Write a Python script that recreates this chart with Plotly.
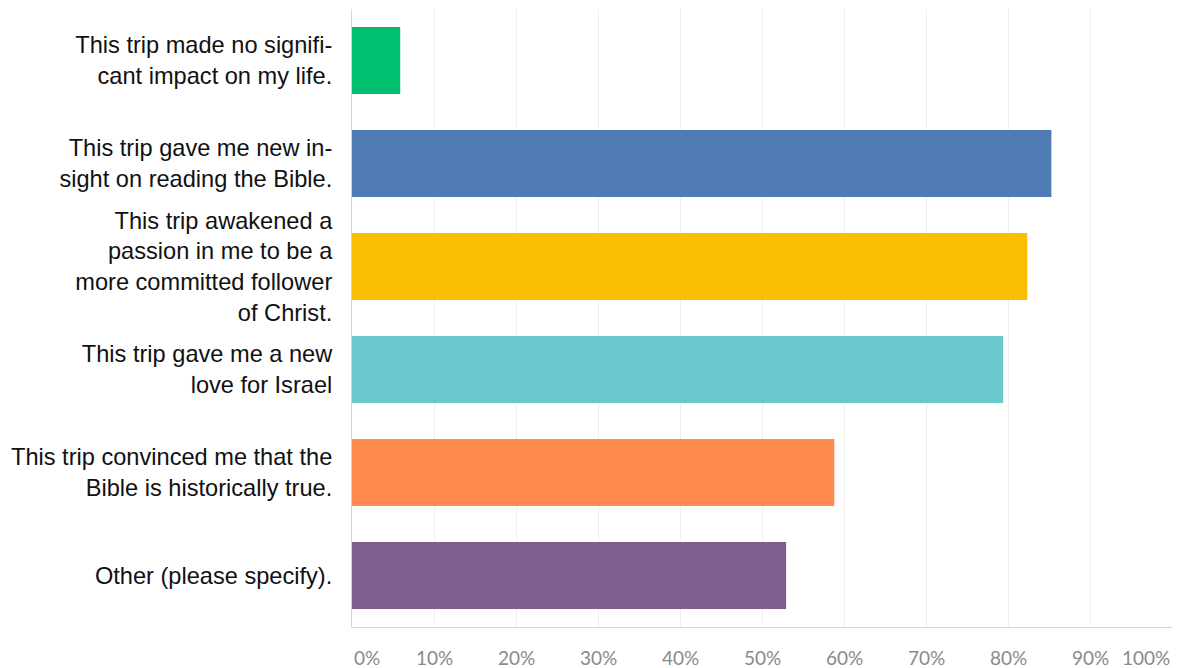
import plotly.graph_objects as go

# Survey answers (top to bottom) and share of respondents choosing each
answers = [
    "This trip made no signifi-<br>cant impact on my life.",
    "This trip gave me new in-<br>sight on reading the Bible.",
    "This trip awakened a<br>passion in me to be a<br>more committed follower<br>of Christ.",
    "This trip gave me a new<br>love for Israel",
    "This trip convinced me that the<br>Bible is historically true.",
    "Other (please specify).",
]
shares = [5.88, 85.29, 82.35, 79.41, 58.82, 52.94]
bar_colors = ["#00BF6F", "#507CB6", "#F9BE00", "#6BC8CD", "#FF8B4F", "#7D5E90"]

tick_values = [0, 10, 20, 30, 40, 50, 60, 70, 80, 90, 100]
tick_labels = ["0%", "10%", "20%", "30%", "40%", "50%", "60%", "70%", "80%", "90%", "100%"]

fig = go.Figure(
    go.Bar(
        x=shares,
        y=answers,
        orientation="h",
        marker=dict(color=bar_colors, line=dict(width=0)),
        hovertemplate="%{x:.2f}%<extra></extra>",
    )
)

# Percent labels along the bottom; the end labels are aligned inward
for v, t in zip(tick_values, tick_labels):
    anchor = "left" if v == 0 else ("right" if v == 100 else "center")
    fig.add_annotation(
        x=v, y=0, xref="x", yref="paper",
        text=t, showarrow=False,
        xanchor=anchor, yanchor="middle", yshift=-30,
        font=dict(family="Lato, Open Sans, sans-serif", size=19, color="#8a8a8a"),
    )

fig.update_layout(
    width=1177,
    height=668,
    margin=dict(l=352, r=5, t=9, b=41),
    paper_bgcolor="white",
    plot_bgcolor="white",
    bargap=0.35,
    showlegend=False,
    xaxis=dict(
        range=[0, 100],
        tickvals=tick_values,
        showticklabels=False,
        showgrid=True,
        gridcolor="#efefef",
        gridwidth=1,
        zeroline=False,
        showline=True,
        linecolor="#d6d6d6",
        linewidth=1,
        fixedrange=True,
    ),
    yaxis=dict(
        categoryorder="array",
        categoryarray=answers[::-1],
        autorange=True,
        showgrid=False,
        zeroline=False,
        showline=True,
        linecolor="#d6d6d6",
        linewidth=1,
        ticks="",
        ticklabelstandoff=14,
        tickfont=dict(family="Liberation Sans, Arial, sans-serif", size=23.6, color="#111111"),
        fixedrange=True,
    ),
)

fig.write_html("out.html")
